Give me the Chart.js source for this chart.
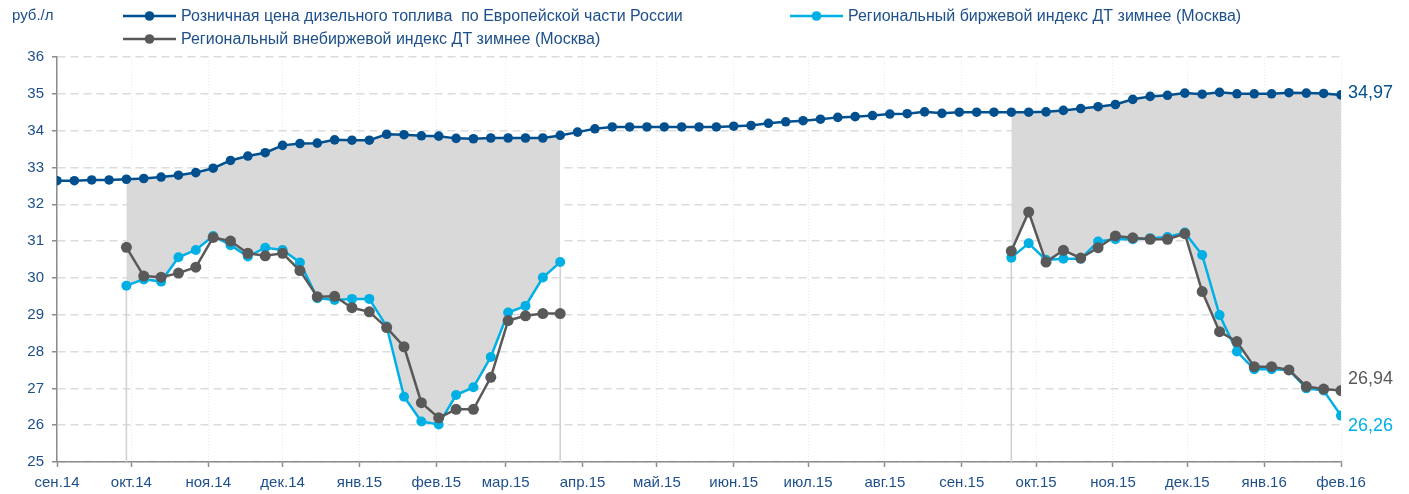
<!DOCTYPE html>
<html>
<head>
<meta charset="utf-8">
<script src="https://cdn.jsdelivr.net/npm/chart.js@4.4.1/dist/chart.umd.min.js"></script>
<style>
  html, body { margin: 0; padding: 0; background: #ffffff; }
  canvas { display: block; }
</style>
</head>
<body>
<canvas id="chart" width="1409" height="494"></canvas>
<script>
// Weekly observation dates (Mondays)
const weeks = [
  '2014-09-01','2014-09-08','2014-09-15','2014-09-22','2014-09-29','2014-10-06','2014-10-13','2014-10-20','2014-10-27',
  '2014-11-03','2014-11-10','2014-11-17','2014-11-24','2014-12-01','2014-12-08','2014-12-15','2014-12-22','2014-12-29',
  '2015-01-05','2015-01-12','2015-01-19','2015-01-26','2015-02-02','2015-02-09','2015-02-16','2015-02-23',
  '2015-03-02','2015-03-09','2015-03-16','2015-03-23','2015-03-30','2015-04-06','2015-04-13','2015-04-20','2015-04-27',
  '2015-05-04','2015-05-11','2015-05-18','2015-05-25','2015-06-01','2015-06-08','2015-06-15','2015-06-22','2015-06-29',
  '2015-07-06','2015-07-13','2015-07-20','2015-07-27','2015-08-03','2015-08-10','2015-08-17','2015-08-24','2015-08-31',
  '2015-09-07','2015-09-14','2015-09-21','2015-09-28','2015-10-05','2015-10-12','2015-10-19','2015-10-26',
  '2015-11-02','2015-11-09','2015-11-16','2015-11-23','2015-11-30','2015-12-07','2015-12-14','2015-12-21','2015-12-28',
  '2016-01-04','2016-01-11','2016-01-18','2016-01-25','2016-02-01'
];

// Retail diesel price, European part of Russia, RUB per litre
const retailPrice = [
  32.64, 32.64, 32.66, 32.66, 32.68, 32.70, 32.74, 32.79, 32.86, 32.98,
  33.19, 33.31, 33.40, 33.60, 33.65, 33.66, 33.75, 33.74, 33.74, 33.90,
  33.89, 33.86, 33.85, 33.79, 33.78, 33.80, 33.80, 33.80, 33.80, 33.87,
  33.96, 34.05, 34.10, 34.10, 34.10, 34.10, 34.10, 34.10, 34.10, 34.12,
  34.14, 34.20, 34.24, 34.27, 34.31, 34.36, 34.38, 34.41, 34.45, 34.46,
  34.51, 34.47, 34.50, 34.50, 34.50, 34.50, 34.50, 34.51, 34.55, 34.60,
  34.65, 34.71, 34.85, 34.93, 34.96, 35.02, 34.99, 35.04, 35.00, 35.00,
  35.00, 35.03, 35.02, 35.01, 34.97
];

// Regional exchange index, winter diesel (Moscow)
const exchangeIndex = [
  null, null, null, null,
  29.79, 29.96, 29.90, 30.56, 30.76, 31.14, 30.89, 30.58, 30.82, 30.76,
  30.42, 29.45, 29.40, 29.43, 29.43, 28.68, 26.77, 26.10, 26.02, 26.82,
  27.03, 27.85, 29.06, 29.24, 30.01, 30.43,
  null, null, null, null, null, null, null, null, null, null, null, null, null,
  null, null, null, null, null, null, null, null, null, null, null, null,
  30.55, 30.94, 30.49, 30.52, 30.52, 30.99, 31.05, 31.05, 31.08, 31.11,
  31.23, 30.62, 28.99, 28.00, 27.52, 27.52, 27.50, 27.00, 26.94, 26.26
];

// Regional over-the-counter index, winter diesel (Moscow)
const otcIndex = [
  null, null, null, null,
  30.83, 30.05, 30.02, 30.13, 30.29, 31.10, 31.00, 30.67, 30.60, 30.67,
  30.20, 29.49, 29.50, 29.19, 29.08, 28.65, 28.13, 26.61, 26.20, 26.43,
  26.43, 27.30, 28.84, 28.97, 29.03, 29.03,
  null, null, null, null, null, null, null, null, null, null, null, null, null,
  null, null, null, null, null, null, null, null, null, null, null, null,
  30.73, 31.79, 30.43, 30.75, 30.54, 30.82, 31.14, 31.09, 31.05, 31.05,
  31.20, 29.63, 28.54, 28.27, 27.59, 27.59, 27.50, 27.05, 26.98, 26.94
];

// Month ticks on the date axis
const monthStarts = [
  '2014-09-01','2014-10-01','2014-11-01','2014-12-01','2015-01-01','2015-02-01','2015-03-01','2015-04-01','2015-05-01',
  '2015-06-01','2015-07-01','2015-08-01','2015-09-01','2015-10-01','2015-11-01','2015-12-01','2016-01-01','2016-02-01'
];
const monthLabels = [
  'сен.14','окт.14','ноя.14','дек.14','янв.15','фев.15','мар.15','апр.15','май.15',
  'июн.15','июл.15','авг.15','сен.15','окт.15','ноя.15','дек.15','янв.16','фев.16'
];

const seriesNames = [
  'Розничная цена дизельного топлива  по Европейской части России',
  'Региональный биржевой индекс ДТ зимнее (Москва)',
  'Региональный внебиржевой индекс ДТ зимнее (Москва)'
];
const unitLabel = 'руб./л';

// Winter periods: shaded gap between the retail price and the wholesale index
const spreadPeriods = [
  { from: '2014-09-29', to: '2015-03-23', base: exchangeIndex },
  { from: '2015-09-21', to: '2016-02-01', base: otcIndex }
];

const Y_MIN = 25, Y_MAX = 36;
const COLORS = {
  retail: '#00508f',
  exchange: '#00b0e4',
  otc: '#595959',
  spread: '#d9d9d9',
  edge: '#cfcfcf',
  text: '#1d4f8b',
  axis: '#8c8c8c'
};
const FONT = '"Liberation Sans", Arial, sans-serif';

const DAY = 86400000;
const origin = Date.parse(weeks[0]);
const dayOf = s => Math.round((Date.parse(s) - origin) / DAY);
const xs = weeks.map(dayOf);
const monthDays = monthStarts.map(dayOf);

const toPoints = arr => arr.map((v, i) => ({ x: xs[i], y: v }));

const periodOf = i => spreadPeriods.find(p => xs[i] >= dayOf(p.from) && xs[i] <= dayOf(p.to));
const spreadTop = retailPrice.map((v, i) => periodOf(i) ? v : null);
const spreadBase = retailPrice.map((v, i) => { const p = periodOf(i); return p ? p.base[i] : null; });

// thin drop lines at the open edges of each shaded period
const edgePoints = [];
spreadPeriods.forEach(p => {
  [p.from, p.to].forEach(d => {
    if (d === weeks[weeks.length - 1]) return;
    const i = weeks.indexOf(d);
    edgePoints.push({ x: xs[i], y: p.base[i] }, { x: xs[i], y: Y_MIN }, { x: xs[i], y: null });
  });
});

const lineStyle = (color, r) => ({
  borderColor: color, backgroundColor: color, pointBackgroundColor: color,
  pointBorderColor: color, pointBorderWidth: 0, pointRadius: r, pointHoverRadius: r,
  borderWidth: 2.5, tension: 0, spanGaps: false, fill: false
});

const datasets = [
  Object.assign({ label: seriesNames[0], data: toPoints(retailPrice), order: 1, endLabel: { color: COLORS.retail, dy: -2 } }, lineStyle(COLORS.retail, 4.8)),
  Object.assign({ label: seriesNames[1], data: toPoints(exchangeIndex), order: 3, endLabel: { color: COLORS.exchange, dy: 10 } }, lineStyle(COLORS.exchange, 5)),
  Object.assign({ label: seriesNames[2], data: toPoints(otcIndex), order: 2, endLabel: { color: COLORS.otc, dy: -12 } }, lineStyle(COLORS.otc, 5.5)),
  { label: 'spreadTop', data: toPoints(spreadTop), order: 6, borderWidth: 0, pointRadius: 0, spanGaps: false,
    backgroundColor: COLORS.spread, borderColor: 'rgba(0,0,0,0)', fill: { target: 4 } },
  { label: 'spreadBase', data: toPoints(spreadBase), order: 5, borderWidth: 0, pointRadius: 0, spanGaps: false,
    borderColor: 'rgba(0,0,0,0)', fill: false },
  { label: 'edges', data: edgePoints, order: 4, borderWidth: 1.5, pointRadius: 0, spanGaps: false,
    borderColor: COLORS.edge, fill: false }
];

const legendLayout = [
  { ds: 0, x: 123, y: 16 },
  { ds: 1, x: 790, y: 16 },
  { ds: 2, x: 123, y: 39 }
];

const decorations = {
  id: 'decorations',
  afterDatasetsDraw(chart) {
    const ctx = chart.ctx;
    ctx.save();
    // unit caption
    ctx.font = '15px ' + FONT;
    ctx.fillStyle = COLORS.text;
    ctx.textBaseline = 'middle';
    ctx.textAlign = 'left';
    ctx.fillText(unitLabel, 12, 16);
    // legend
    ctx.font = '16px ' + FONT;
    legendLayout.forEach(item => {
      const ds = chart.data.datasets[item.ds];
      ctx.strokeStyle = ds.borderColor;
      ctx.lineWidth = 2.5;
      ctx.beginPath();
      ctx.moveTo(item.x, item.y);
      ctx.lineTo(item.x + 53, item.y);
      ctx.stroke();
      ctx.fillStyle = ds.borderColor;
      ctx.beginPath();
      ctx.arc(item.x + 26.5, item.y, 4.8, 0, Math.PI * 2);
      ctx.fill();
      ctx.fillStyle = COLORS.text;
      ctx.fillText(ds.label, item.x + 58, item.y + 1);
    });
    // value labels at the last point of each main series
    ctx.font = '18px ' + FONT;
    [0, 1, 2].forEach(k => {
      const ds = chart.data.datasets[k];
      const meta = chart.getDatasetMeta(k);
      const last = meta.data[meta.data.length - 1];
      const v = ds.data[ds.data.length - 1].y;
      ctx.fillStyle = ds.endLabel.color;
      ctx.fillText(v.toFixed(2).replace('.', ','), last.x + 7, last.y + ds.endLabel.dy);
    });
    ctx.restore();
  }
};

new Chart(document.getElementById('chart'), {
  type: 'line',
  data: { datasets },
  options: {
    responsive: false,
    animation: false,
    devicePixelRatio: 1,
    events: [],
    layout: { padding: { top: 57, right: 68, left: 0, bottom: 0 } },
    plugins: { legend: { display: false }, tooltip: { enabled: false } },
    scales: {
      x: {
        type: 'linear',
        min: 0,
        max: xs[xs.length - 1],
        afterFit(scale) { scale.height = 32; },
        afterBuildTicks(scale) { scale.ticks = monthDays.map(v => ({ value: v })); },
        ticks: {
          autoSkip: false, maxRotation: 0, padding: 7,
          color: COLORS.text, font: { family: FONT, size: 15 },
          callback: (value) => monthLabels[monthDays.indexOf(value)]
        },
        grid: { color: '#ececec', lineWidth: 1, tickColor: COLORS.axis, tickLength: 5, tickWidth: 1.5 },
        border: { color: COLORS.axis, width: 1.5, dash: [1, 2] }
      },
      y: {
        min: Y_MIN, max: Y_MAX,
        afterFit(scale) { scale.width = 57; },
        ticks: { stepSize: 1, padding: 8, color: COLORS.text, font: { family: FONT, size: 15 } },
        grid: { color: '#dcdcdc', lineWidth: 1.5, tickColor: COLORS.axis, tickLength: 5, tickWidth: 1.5 },
        border: { color: COLORS.axis, width: 1.5, dash: [8, 5] }
      }
    }
  },
  plugins: [decorations]
});
</script>
</body>
</html>
